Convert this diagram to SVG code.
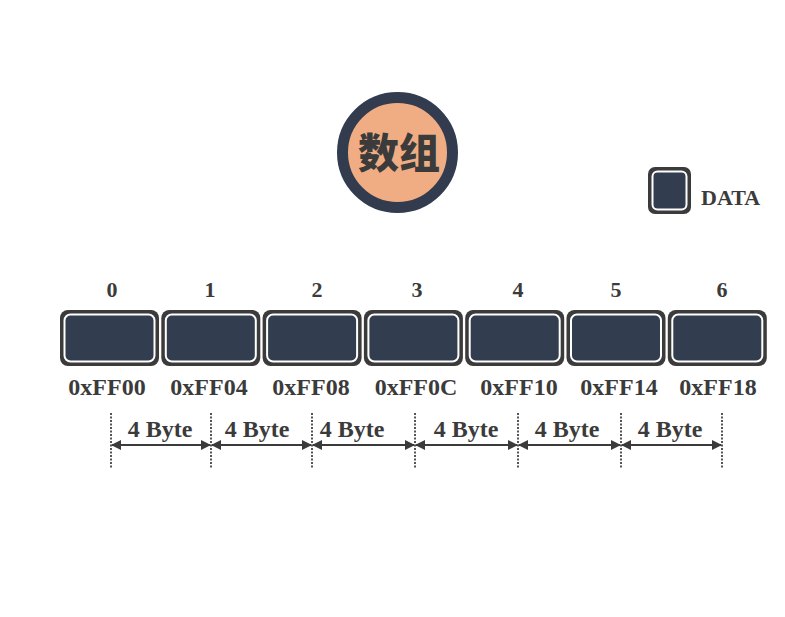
<svg xmlns="http://www.w3.org/2000/svg" width="785" height="617" viewBox="0 0 785 617">
<defs>
<style>
.t{font-family:"Liberation Serif","Noto Sans CJK SC",serif;font-weight:bold;fill:#3b3b3b;text-anchor:middle}
.idx{font-size:22px}
.addr{font-size:24px}
.byte{font-size:24px}
.outer{fill:#3b3b3b}
.inner{fill:#323d50;stroke:#ffffff;stroke-width:2}
.dot{stroke:#555555;stroke-width:2;stroke-dasharray:2 1.5}
.arr{stroke:#3b3b3b;stroke-width:2;fill:none;marker-start:url(#ah);marker-end:url(#ah)}
</style>
<marker id="ah" viewBox="0 0 10 10" refX="9" refY="5" markerWidth="5" markerHeight="5" orient="auto-start-reverse" markerUnits="strokeWidth">
<path d="M0,0 L10,5 L0,10 Z" fill="#3b3b3b"/>
</marker>
</defs>
<rect width="785" height="617" fill="#ffffff"/>

<g id="title">
<circle cx="397.5" cy="152.5" r="55" fill="#f0ad84" stroke="#323c4e" stroke-width="11"/>
<text class="t" x="399" y="168" style="font-size:41px;font-family:'Noto Sans CJK SC',sans-serif;font-weight:900">数组</text>
</g>

<g id="legend">
<rect x="648" y="167" width="43" height="47" rx="7" class="outer"/>
<rect x="652.5" y="171.5" width="34" height="38" rx="5" class="inner"/>
<text class="t" x="701" y="205" style="font-size:22px;text-anchor:start">DATA</text>
</g>

<g id="cell0"><rect x="60" y="310" width="99" height="56" rx="8" class="outer"/><rect x="64.5" y="314.5" width="90" height="47" rx="6" class="inner"/><text class="t idx" x="112" y="297">0</text><text class="t addr" x="107" y="395">0xFF00</text></g>
<g id="cell1"><rect x="161.3" y="310" width="99" height="56" rx="8" class="outer"/><rect x="165.8" y="314.5" width="90" height="47" rx="6" class="inner"/><text class="t idx" x="210" y="297">1</text><text class="t addr" x="209" y="395">0xFF04</text></g>
<g id="cell2"><rect x="262.6" y="310" width="99" height="56" rx="8" class="outer"/><rect x="267.1" y="314.5" width="90" height="47" rx="6" class="inner"/><text class="t idx" x="317" y="297">2</text><text class="t addr" x="311" y="395">0xFF08</text></g>
<g id="cell3"><rect x="363.9" y="310" width="99" height="56" rx="8" class="outer"/><rect x="368.4" y="314.5" width="90" height="47" rx="6" class="inner"/><text class="t idx" x="417" y="297">3</text><text class="t addr" x="416" y="395">0xFF0C</text></g>
<g id="cell4"><rect x="465.2" y="310" width="99" height="56" rx="8" class="outer"/><rect x="469.7" y="314.5" width="90" height="47" rx="6" class="inner"/><text class="t idx" x="518" y="297">4</text><text class="t addr" x="519" y="395">0xFF10</text></g>
<g id="cell5"><rect x="566.5" y="310" width="99" height="56" rx="8" class="outer"/><rect x="571" y="314.5" width="90" height="47" rx="6" class="inner"/><text class="t idx" x="616" y="297">5</text><text class="t addr" x="619" y="395">0xFF14</text></g>
<g id="cell6"><rect x="667.8" y="310" width="99" height="56" rx="8" class="outer"/><rect x="672.3" y="314.5" width="90" height="47" rx="6" class="inner"/><text class="t idx" x="722" y="297">6</text><text class="t addr" x="718" y="395">0xFF18</text></g>

<g id="connectors">
<line class="dot" x1="111" y1="413" x2="111" y2="469"/>
<line class="dot" x1="211" y1="413" x2="211" y2="469"/>
<line class="dot" x1="312" y1="413" x2="312" y2="469"/>
<line class="dot" x1="415" y1="413" x2="415" y2="469"/>
<line class="dot" x1="518" y1="413" x2="518" y2="469"/>
<line class="dot" x1="621" y1="413" x2="621" y2="469"/>
<line class="dot" x1="722" y1="413" x2="722" y2="469"/>
<line class="arr" x1="112" y1="445" x2="210" y2="445"/>
<line class="arr" x1="212" y1="445" x2="311" y2="445"/>
<line class="arr" x1="313" y1="445" x2="414" y2="445"/>
<line class="arr" x1="416" y1="445" x2="517" y2="445"/>
<line class="arr" x1="519" y1="445" x2="620" y2="445"/>
<line class="arr" x1="622" y1="445" x2="721" y2="445"/>
</g>
<g id="labels">
<text class="t byte" x="160" y="437">4 Byte</text>
<text class="t byte" x="257" y="437">4 Byte</text>
<text class="t byte" x="352" y="437">4 Byte</text>
<text class="t byte" x="466" y="437">4 Byte</text>
<text class="t byte" x="567" y="437">4 Byte</text>
<text class="t byte" x="670" y="437">4 Byte</text>
</g>
</svg>
